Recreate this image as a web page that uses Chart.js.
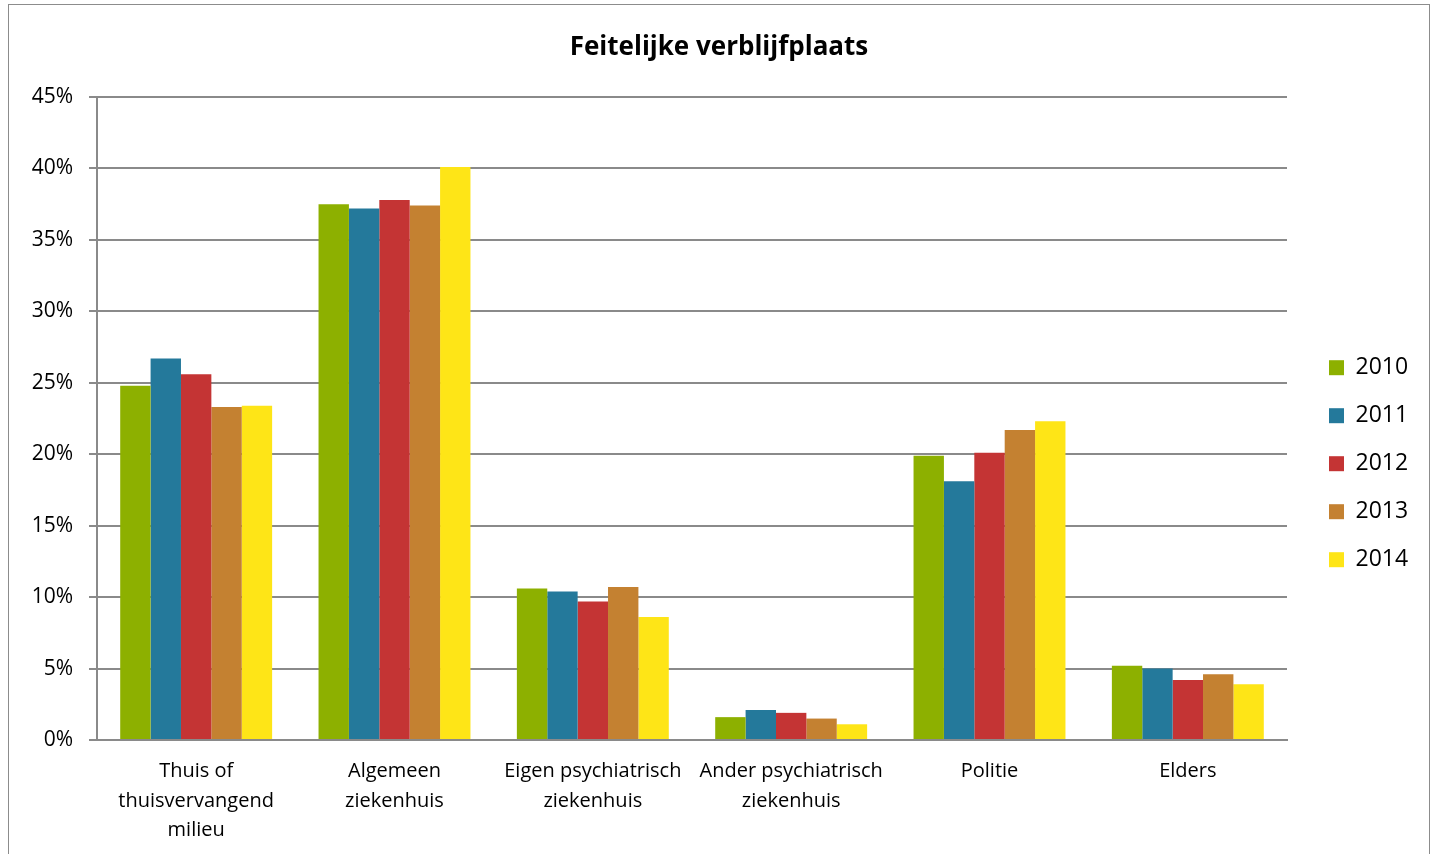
<!DOCTYPE html>
<html>
<head>
<meta charset="utf-8">
<title>Feitelijke verblijfplaats</title>
<script src="https://cdn.jsdelivr.net/npm/chart.js@4/dist/chart.umd.min.js"></script>
<style>
  body { margin: 0; background: #fff; }
  #frame {
    position: absolute;
    left: 8px;
    top: 4px;
    width: 1420px;
    height: 860px;
    border: 1px solid #8c8c8c;
    border-bottom: none;
  }
  #wrap { width: 1420px; height: 849px; }
</style>
</head>
<body>
<div id="frame">
  <div id="wrap"><canvas id="grafiek"></canvas></div>
</div>
<script>
const categorieen = [
  ["Thuis of", "thuisvervangend", "milieu"],
  ["Algemeen", "ziekenhuis"],
  ["Eigen psychiatrisch", "ziekenhuis"],
  ["Ander psychiatrisch", "ziekenhuis"],
  "Politie",
  "Elders",
];

const jaren = ["2010", "2011", "2012", "2013", "2014"];

const waarden2010 = [24.8, 37.5, 10.6, 1.6, 19.9, 5.2];
const waarden2011 = [26.7, 37.2, 10.4, 2.1, 18.1, 5.0];
const waarden2012 = [25.6, 37.8, 9.7, 1.9, 20.1, 4.2];
const waarden2013 = [23.3, 37.4, 10.7, 1.5, 21.7, 4.6];
const waarden2014 = [23.4, 40.1, 8.6, 1.1, 22.3, 3.9];

const kleuren = ["#8db000", "#24799b", "#c43434", "#c48131", "#fee517"];

const yTicks = [0, 5, 10, 15, 20, 25, 30, 35, 40, 45];

const reeksen = [waarden2010, waarden2011, waarden2012, waarden2013, waarden2014];

const gridKleur = "#8a8a8a";
const lettertype = "'Open Sans', Lato, sans-serif";

// legend vaste breedte zodat het plotgebied rechts op dezelfde plek eindigt
const legendBreedte = {
  id: "legendBreedte",
  beforeLayout(chart) {
    const legend = chart.legend;
    if (!legend || legend._vast) return;
    const fit = legend.fit;
    legend.fit = function () {
      fit.call(this);
      this.width = 125;
    };
    legend._vast = true;
  },
};

const ctx = document.getElementById("grafiek").getContext("2d");
new Chart(ctx, {
  type: "bar",
  data: {
    labels: categorieen,
    datasets: jaren.map((jaar, i) => ({
      label: jaar,
      data: reeksen[i],
      backgroundColor: kleuren[i],
      borderWidth: 0,
      categoryPercentage: 0.766,
      barPercentage: 1.0,
    })),
  },
  options: {
    responsive: true,
    maintainAspectRatio: false,
    animation: false,
    layout: { padding: 0 },
    scales: {
      x: {
        grid: { display: false, drawTicks: false },
        border: { display: true, color: gridKleur, width: 2 },
        ticks: {
          color: "#000",
          padding: 17,
          maxRotation: 0,
          autoSkip: false,
          font: { family: lettertype, size: 20, lineHeight: 1.47 },
        },
        afterFit(scale) {
          scale.height = 114;
        },
      },
      y: {
        min: 0,
        max: 45,
        afterBuildTicks(scale) {
          scale.ticks = yTicks.map((v) => ({ value: v }));
        },
        grid: { color: gridKleur, lineWidth: 2, tickLength: 8 },
        border: { display: true, color: gridKleur, width: 2 },
        ticks: {
          color: "#000",
          padding: 16,
          font: { family: lettertype, size: 21 },
          callback: (v) => v + "%",
        },
        afterFit(scale) {
          scale.width = 88;
        },
      },
      y2: {
        position: "right",
        grid: { display: false, drawTicks: false },
        border: { display: false },
        ticks: { display: false },
        afterFit(scale) {
          scale.width = 17;
        },
      },
    },
    plugins: {
      title: {
        display: true,
        text: "Feitelijke verblijfplaats",
        color: "#000",
        font: { family: lettertype, size: 26, weight: "bold" },
        padding: { top: 27.4, bottom: 33.4 },
      },
      legend: {
        position: "right",
        title: { display: true, text: "", padding: { top: 54, bottom: 0 } },
        labels: {
          color: "#000",
          boxWidth: 15,
          boxHeight: 15,
          padding: 25,
          font: { family: lettertype, size: 23 },
        },
      },
      tooltip: { enabled: false },
    },
  },
  plugins: [legendBreedte],
});
</script>
</body>
</html>
